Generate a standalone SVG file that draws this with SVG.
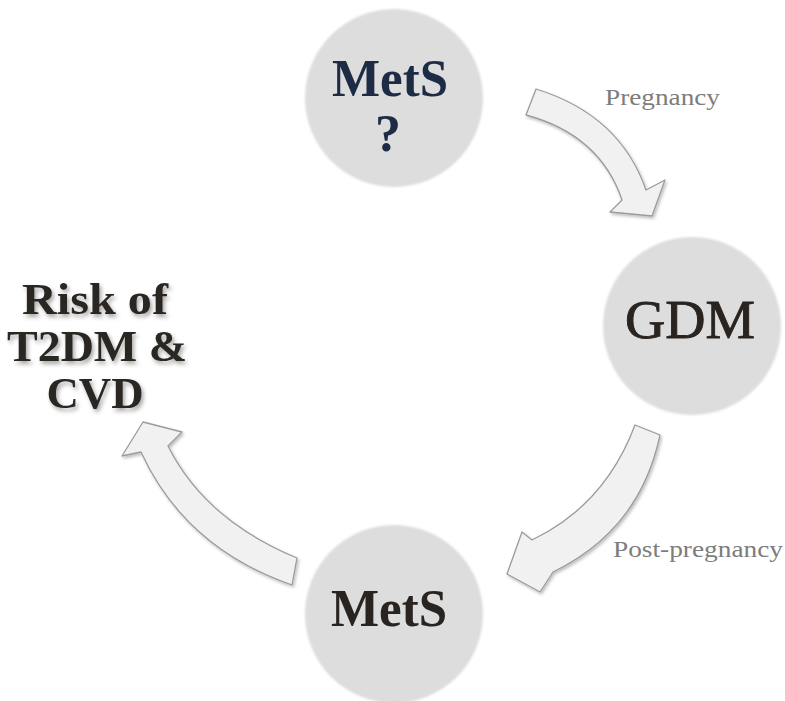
<svg xmlns="http://www.w3.org/2000/svg" width="785" height="701" viewBox="0 0 785 701">
  <defs>
    <filter id="arrowShadow" x="-20%" y="-20%" width="140%" height="140%">
      <feDropShadow dx="1.5" dy="2" stdDeviation="1.5" flood-color="#000" flood-opacity="0.25"/>
    </filter>
    <filter id="textShadow" x="-10%" y="-20%" width="120%" height="150%">
      <feDropShadow dx="2" dy="3" stdDeviation="2.2" flood-color="#000" flood-opacity="0.35"/>
    </filter>
    <filter id="soft" x="-10%" y="-10%" width="120%" height="120%">
      <feGaussianBlur stdDeviation="0.8"/>
    </filter>
  </defs>
  <style>
    .circle { fill: #dddddd; }
    .big { font-family: "Liberation Serif", "DejaVu Serif", serif; font-weight: bold; font-size: 52px; text-anchor: middle; }
    .lbl { font-family: "Liberation Serif", "DejaVu Serif", serif; font-size: 23px; fill: #7d7d7d; }
    .risk { font-family: "Liberation Serif", "DejaVu Serif", serif; font-weight: bold; font-size: 45px; fill: #2a2520; text-anchor: middle; }
    .arrow { fill: #f1f1f1; stroke: #9b9b9b; stroke-width: 1.3; stroke-linejoin: round; }
  </style>
  <rect width="785" height="701" fill="#ffffff"/>

  <g id="connectors">
    <path class="arrow" filter="url(#arrowShadow)" d="M536,89 Q620,115 646,190 L665,180 L652,216 L610,212 L622,200 Q600,135 526,115 Z"/>
    <path class="arrow" filter="url(#arrowShadow)" d="M635,425 Q605,505 532,540 L522,532 L507,574 L540,592 L553,572 Q640,530 660,435 Z"/>
    <path class="arrow" filter="url(#arrowShadow)" d="M297,558 Q205,520 168,446 L182,432 L143,422 L122,456 L141,452 Q185,548 292,585 Z"/>
    <text class="lbl" x="605" y="105" textLength="115" lengthAdjust="spacingAndGlyphs">Pregnancy</text>
    <text class="lbl" x="613" y="557" textLength="170" lengthAdjust="spacingAndGlyphs">Post-pregnancy</text>
  </g>

  <g id="node-mets-top">
    <circle class="circle" cx="394" cy="98" r="89" filter="url(#soft)"/>
    <text class="big" x="390" y="96" fill="#1d2b45" textLength="116" lengthAdjust="spacingAndGlyphs">MetS</text>
    <text class="big" x="388" y="151" fill="#1d2b45">?</text>
  </g>

  <g id="node-gdm">
    <circle class="circle" cx="692" cy="326" r="89" filter="url(#soft)"/>
    <text class="big" x="690" y="338" fill="#2a2420" stroke="#2a2420" stroke-width="0.9" style="font-weight:normal;font-size:54px" textLength="130" lengthAdjust="spacingAndGlyphs">GDM</text>
  </g>

  <g id="node-mets-bottom">
    <circle class="circle" cx="394" cy="614" r="89" filter="url(#soft)"/>
    <text class="big" x="389" y="626" fill="#2a2420" textLength="116" lengthAdjust="spacingAndGlyphs">MetS</text>
  </g>

  <g id="node-risk" filter="url(#textShadow)">
    <text class="risk" x="95" y="314" textLength="146" lengthAdjust="spacingAndGlyphs">Risk of</text>
    <text class="risk" x="97" y="361" textLength="180" lengthAdjust="spacingAndGlyphs">T2DM &amp;</text>
    <text class="risk" x="95" y="408" textLength="97" lengthAdjust="spacingAndGlyphs">CVD</text>
  </g>
</svg>
